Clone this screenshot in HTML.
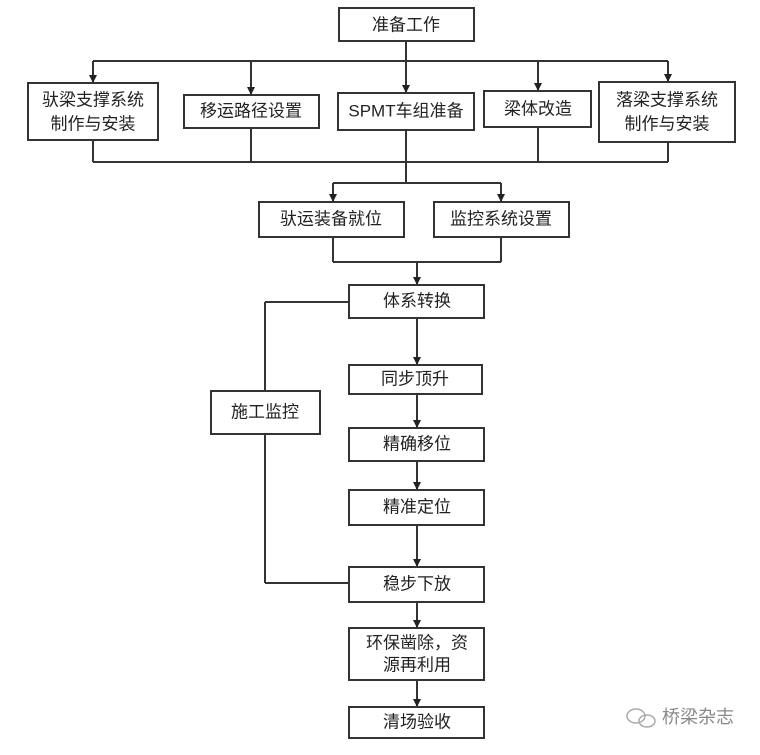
<!DOCTYPE html>
<html><head><meta charset="utf-8"><style>
html,body{margin:0;padding:0;background:#fff;}
text{font-family:"Liberation Sans","Noto Sans CJK SC",sans-serif;font-size:17px;fill:#222;text-anchor:middle;dominant-baseline:central;}
</style></head><body>
<svg width="760" height="750" viewBox="0 0 760 750" xmlns="http://www.w3.org/2000/svg">
<defs><marker id="a" markerWidth="8" markerHeight="8" refX="7" refY="4" orient="auto" markerUnits="userSpaceOnUse"><path d="M0,0 L8,4 L0,8 Z" fill="#222"/></marker></defs>
<g stroke="#333" stroke-width="2" fill="none">
<rect x="339" y="8" width="135" height="33" fill="#fff"/>
<line x1="406" y1="41" x2="406" y2="61"/>
<line x1="93" y1="61" x2="668" y2="61"/>
<line x1="93" y1="61" x2="93" y2="82" marker-end="url(#a)"/>
<line x1="251" y1="61" x2="251" y2="94" marker-end="url(#a)"/>
<line x1="406" y1="61" x2="406" y2="92" marker-end="url(#a)"/>
<line x1="538" y1="61" x2="538" y2="90" marker-end="url(#a)"/>
<line x1="668" y1="61" x2="668" y2="81" marker-end="url(#a)"/>
<rect x="28" y="83" width="130" height="57"/>
<rect x="184" y="95" width="135" height="33"/>
<rect x="338" y="93" width="136" height="37"/>
<rect x="484" y="91" width="107" height="36"/>
<rect x="599" y="82" width="136" height="60"/>
<line x1="93" y1="140" x2="93" y2="162"/>
<line x1="251" y1="128" x2="251" y2="162"/>
<line x1="406" y1="130" x2="406" y2="162"/>
<line x1="538" y1="127" x2="538" y2="162"/>
<line x1="668" y1="142" x2="668" y2="162"/>
<line x1="93" y1="162" x2="668" y2="162"/>
<line x1="406" y1="162" x2="406" y2="183"/>
<line x1="333" y1="183" x2="501" y2="183"/>
<line x1="333" y1="183" x2="333" y2="201" marker-end="url(#a)"/>
<line x1="501" y1="183" x2="501" y2="201" marker-end="url(#a)"/>
<rect x="259" y="202" width="145" height="35"/>
<rect x="434" y="202" width="135" height="35"/>
<line x1="333" y1="237" x2="333" y2="262"/>
<line x1="501" y1="237" x2="501" y2="262"/>
<line x1="333" y1="262" x2="501" y2="262"/>
<line x1="417" y1="262" x2="417" y2="284" marker-end="url(#a)"/>
<rect x="349" y="285" width="135" height="33"/>
<line x1="349" y1="302" x2="265" y2="302"/>
<line x1="265" y1="302" x2="265" y2="391"/>
<rect x="211" y="391" width="109" height="43"/>
<line x1="265" y1="434" x2="265" y2="583"/>
<line x1="265" y1="583" x2="349" y2="583"/>
<line x1="417" y1="318" x2="417" y2="364" marker-end="url(#a)"/>
<rect x="349" y="365" width="133" height="29"/>
<line x1="417" y1="394" x2="417" y2="427" marker-end="url(#a)"/>
<rect x="349" y="428" width="135" height="33"/>
<line x1="417" y1="461" x2="417" y2="489" marker-end="url(#a)"/>
<rect x="349" y="490" width="135" height="35"/>
<line x1="417" y1="525" x2="417" y2="566" marker-end="url(#a)"/>
<rect x="349" y="567" width="135" height="35"/>
<line x1="417" y1="602" x2="417" y2="627" marker-end="url(#a)"/>
<rect x="349" y="628" width="135" height="52"/>
<line x1="417" y1="680" x2="417" y2="706" marker-end="url(#a)"/>
<rect x="349" y="707" width="135" height="31"/>
</g>
<text x="406" y="25">准备工作</text>
<text x="93" y="100">驮梁支撑系统</text>
<text x="93" y="124">制作与安装</text>
<text x="251" y="111">移运路径设置</text>
<text x="406" y="111">SPMT车组准备</text>
<text x="538" y="109">梁体改造</text>
<text x="667" y="100">落梁支撑系统</text>
<text x="667" y="124">制作与安装</text>
<text x="331" y="219">驮运装备就位</text>
<text x="501" y="219">监控系统设置</text>
<text x="417" y="301">体系转换</text>
<text x="265" y="412">施工监控</text>
<text x="415" y="379">同步顶升</text>
<text x="417" y="444">精确移位</text>
<text x="417" y="507">精准定位</text>
<text x="417" y="584">稳步下放</text>
<text x="417" y="643">环保凿除，资</text>
<text x="417" y="665">源再利用</text>
<text x="417" y="722">清场验收</text>
<text x="698" y="717" style="fill:#888;font-size:18px">桥梁杂志</text>
<g stroke="#aaa" fill="none" stroke-width="1.5"><ellipse cx="636" cy="716" rx="9" ry="7"/><ellipse cx="647" cy="721" rx="8" ry="6"/></g>
</svg>
</body></html>
